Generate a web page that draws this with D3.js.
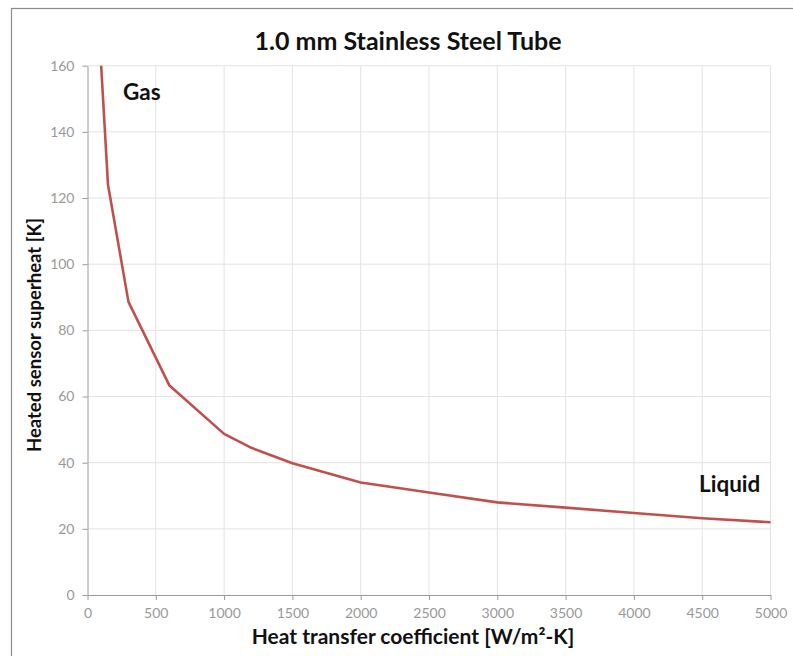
<!DOCTYPE html>
<html>
<head>
<meta charset="utf-8">
<script src="https://cdn.jsdelivr.net/npm/d3@7"></script>
<style>
  html, body { margin: 0; padding: 0; background: #fff; }
  svg { display: block; }
</style>
</head>
<body>
<svg id="chart" width="793" height="656"></svg>
<script>
// Heated sensor superheat versus heat transfer coefficient, 1.0 mm stainless tube
const htc = [100, 150, 300, 600, 1000, 1200, 1500, 2000, 2500, 3000, 3500, 4000, 4500, 5000];
const superheat = [160, 124, 88.6, 63.3, 48.7, 44.5, 39.8, 34.0, 31.0, 28.0, 26.4, 24.8, 23.2, 22.0];
const xTicks = [0, 500, 1000, 1500, 2000, 2500, 3000, 3500, 4000, 4500, 5000];
const yTicks = [0, 20, 40, 60, 80, 100, 120, 140, 160];

const svg = d3.select("#chart");
const font = "Lato, 'Open Sans', sans-serif";

const m = { left: 87.5, right: 770.5, top: 65.7, bottom: 595 };
const x = d3.scaleLinear().domain([0, 5000]).range([m.left, m.right]);
const y = d3.scaleLinear().domain([0, 160]).range([m.bottom, m.top]);

// outer frame
svg.append("rect")
  .attr("x", 11.5).attr("y", 8.5)
  .attr("width", 800).attr("height", 700)
  .attr("fill", "#fff").attr("stroke", "#8c8c8c").attr("stroke-width", 1.2);

// gridlines
svg.append("g").selectAll("line").data(xTicks.slice(1)).join("line")
  .attr("x1", d => x(d)).attr("x2", d => x(d))
  .attr("y1", m.top).attr("y2", m.bottom)
  .attr("stroke", "#e3e3e3").attr("stroke-width", 1);
svg.append("g").selectAll("line").data(yTicks.slice(1)).join("line")
  .attr("x1", m.left).attr("x2", m.right)
  .attr("y1", d => y(d)).attr("y2", d => y(d))
  .attr("stroke", "#e3e3e3").attr("stroke-width", 1);

// axes
const xAxis = svg.append("g")
  .attr("transform", `translate(0,${m.bottom})`)
  .call(d3.axisBottom(x).tickValues(xTicks).tickFormat(d3.format("d"))
    .tickSize(5).tickPadding(8).tickSizeOuter(0));
const yAxis = svg.append("g")
  .attr("transform", `translate(${m.left},0)`)
  .call(d3.axisLeft(y).tickValues(yTicks).tickFormat(d3.format("d"))
    .tickSize(5).tickPadding(8).tickSizeOuter(0));
[xAxis, yAxis].forEach(g => {
  g.selectAll("path, line").attr("stroke", "#9a9a9a");
  g.selectAll("text").attr("fill", "#999").attr("font-family", font).attr("font-size", 14);
});

// curve
svg.append("path")
  .datum(htc.map((h, i) => [h, superheat[i]]))
  .attr("fill", "none")
  .attr("stroke", "#c0504d")
  .attr("stroke-width", 2.6)
  .attr("stroke-linejoin", "round")
  .attr("d", d3.line().x(d => x(d[0])).y(d => y(d[1])));

// labels
svg.append("text")
  .attr("x", 408).attr("y", 50)
  .attr("text-anchor", "middle")
  .attr("font-family", font).attr("font-weight", "bold").attr("font-size", 25)
  .attr("fill", "#111")
  .text("1.0 mm Stainless Steel Tube");

svg.append("text")
  .attr("x", 413).attr("y", 644)
  .attr("text-anchor", "middle")
  .attr("font-family", font).attr("font-weight", "bold").attr("font-size", 21)
  .attr("fill", "#111")
  .text("Heat transfer coefficient [W/m²-K]");

svg.append("text")
  .attr("transform", "translate(41,335) rotate(-90)")
  .attr("text-anchor", "middle")
  .attr("font-family", font).attr("font-weight", "bold").attr("font-size", 18.5)
  .attr("fill", "#111")
  .text("Heated sensor superheat [K]");

svg.append("text")
  .attr("x", 123).attr("y", 100)
  .attr("font-family", font).attr("font-weight", "bold").attr("font-size", 22.5)
  .attr("fill", "#111")
  .text("Gas");

svg.append("text")
  .attr("x", 699).attr("y", 492)
  .attr("font-family", font).attr("font-weight", "bold").attr("font-size", 22.5)
  .attr("fill", "#111")
  .text("Liquid");
</script>
</body>
</html>
